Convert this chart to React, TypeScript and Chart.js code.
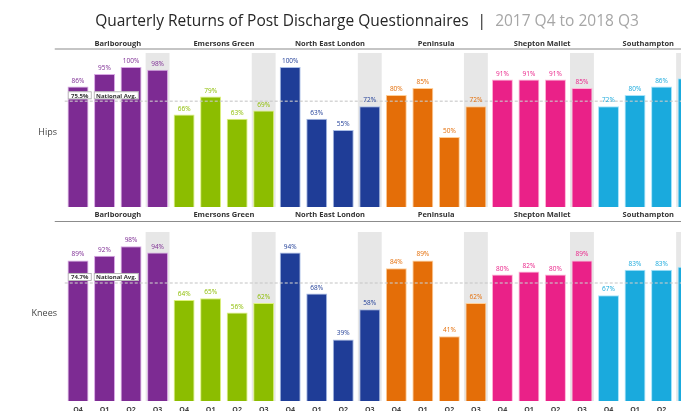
import React, { useEffect, useRef } from 'react';
import { Chart, registerables } from 'chart.js';
Chart.register(...registerables);

const titleMain = 'Quarterly Returns of Post Discharge Questionnaires';
const titleSep = '|';
const titleSub = '2017 Q4 to 2018 Q3';
const groups = ['Barlborough', 'Emersons Green', 'North East London', 'Peninsula', 'Shepton Mallet', 'Southampton'];
const quarters = ['Q4', 'Q1', 'Q2', 'Q3'];
const highlightQuarter = 'Q3';
const groupColors = ['#7d2b93', '#8cbd00', '#1f3d97', '#e46e08', '#ea2188', '#1aaadd'];
const groupTints = ['#d8a8e4', '#def27c', '#a9bde6', '#ffcf98', '#ffb2d6', '#a8e4fb'];
const panelNames = ['Hips', 'Knees'];
const hipsValues = [86, 95, 100, 98, 66, 79, 63, 69, 100, 63, 55, 72, 80, 85, 50, 72, 91, 91, 91, 85, 72, 80, 86, 92];
const kneesValues = [89, 92, 98, 94, 64, 65, 56, 62, 94, 68, 39, 58, 84, 89, 41, 62, 80, 82, 80, 89, 67, 83, 83, 85];
const nationalAvg = [75.5, 74.7];
const avgLabel = 'National Avg.';

const labels = groups.flatMap(() => quarters);
const barColors = groups.flatMap((_, g) => quarters.map(() => groupColors[g]));
const barTints = groups.flatMap((_, g) => quarters.map(() => groupTints[g]));

const FONT = '"Open Sans", "Liberation Sans", sans-serif';
const CANVAS_W = 720;

type Decor = {
  panel: number;
  headerY: number;
  headerLineY: number;
  bandTop: number;
  nameY: number;
  drawTitle: boolean;
  drawTicks: boolean;
};

const decorPlugin = {
  id: 'panelDecor',
  beforeDatasetsDraw(chart: any, _a: any, opts: Decor) {
    const { ctx, chartArea } = chart;
    const xs = chart.scales.x;
    const w = (xs.width / labels.length) * 0.9;
    ctx.save();
    ctx.fillStyle = '#e7e7e7';
    labels.forEach((q, i) => {
      if (q !== highlightQuarter) return;
      const x = xs.getPixelForValue(i);
      ctx.fillRect(x - w / 2, opts.bandTop, w, chartArea.bottom - opts.bandTop);
    });
    ctx.restore();
  },
  afterDatasetsDraw(chart: any, _a: any, opts: Decor) {
    const { ctx, chartArea } = chart;
    const xs = chart.scales.x;
    const ys = chart.scales.y;
    const values = chart.data.datasets[0].data as number[];
    ctx.save();

    // national average line
    const avg = nationalAvg[opts.panel];
    const ay = ys.getPixelForValue(avg);
    ctx.strokeStyle = 'rgba(200,200,200,0.75)';
    ctx.lineWidth = 1.5;
    ctx.setLineDash([3, 2]);
    ctx.beginPath();
    ctx.moveTo(chartArea.left, ay);
    ctx.lineTo(chart.width, ay);
    ctx.stroke();
    ctx.setLineDash([]);

    // average box
    const bx = chartArea.left + 3;
    const bh = 8;
    const by = ay - bh - 2;
    const cells = [{ t: avg.toFixed(1) + '%', w: 24 }, { t: avgLabel, w: 45 }];
    let cx = bx;
    ctx.font = `bold 6px ${FONT}`;
    ctx.textAlign = 'center';
    ctx.textBaseline = 'middle';
    cells.forEach((c) => {
      ctx.fillStyle = '#ffffff';
      ctx.fillRect(cx, by, c.w, bh);
      ctx.strokeStyle = 'rgba(150,150,150,0.8)';
      ctx.lineWidth = 0.8;
      ctx.strokeRect(cx + 0.5, by + 0.5, c.w - 1, bh - 1);
      ctx.fillStyle = '#333';
      ctx.fillText(c.t, cx + c.w / 2, by + bh / 2 + 0.5);
      cx += c.w + 2;
    });

    // value labels
    ctx.font = `6.5px ${FONT}`;
    ctx.textAlign = 'center';
    ctx.textBaseline = 'bottom';
    values.forEach((v, i) => {
      const x = xs.getPixelForValue(i);
      const y = ys.getPixelForValue(v);
      ctx.fillStyle = barColors[i];
      ctx.fillText(Math.round(v) + '%', x, y - 2.5);
    });

    // group headers
    ctx.font = `bold 7.5px ${FONT}`;
    ctx.fillStyle = '#333';
    ctx.textBaseline = 'middle';
    groups.forEach((g, gi) => {
      const x0 = xs.getPixelForValue(gi * 4);
      const x1 = xs.getPixelForValue(gi * 4 + 3);
      ctx.fillText(g, (x0 + x1) / 2, opts.headerY);
    });
    ctx.strokeStyle = '#8c8c8c';
    ctx.lineWidth = 1.2;
    ctx.beginPath();
    ctx.moveTo(chartArea.left - 10, opts.headerLineY);
    ctx.lineTo(chart.width, opts.headerLineY);
    ctx.stroke();

    // x tick labels (quarters)
    if (opts.drawTicks) {
      ctx.font = `bold 7px ${FONT}`;
      ctx.fillStyle = '#444';
      ctx.textAlign = 'center';
      ctx.textBaseline = 'top';
      labels.forEach((l, i) => {
        ctx.fillText(l, xs.getPixelForValue(i), chartArea.bottom + 5);
      });
    }

    // panel name
    ctx.font = `9px ${FONT}`;
    ctx.fillStyle = '#444';
    ctx.textAlign = 'right';
    ctx.textBaseline = 'middle';
    ctx.fillText(panelNames[opts.panel], 57, opts.nameY);

    // title
    if (opts.drawTitle) {
      ctx.font = `15.5px ${FONT}`;
      ctx.textAlign = 'left';
      const gap = 9;
      const w1 = ctx.measureText(titleMain).width;
      const w2 = ctx.measureText(titleSep).width;
      const w3 = ctx.measureText(titleSub).width;
      const total = w1 + gap + w2 + gap + w3;
      let tx = 367 - total / 2;
      const ty = 22;
      ctx.fillStyle = '#262626';
      ctx.fillText(titleMain, tx, ty);
      tx += w1 + gap;
      ctx.fillText(titleSep, tx, ty);
      tx += w2 + gap;
      ctx.fillStyle = '#a6a6a6';
      ctx.fillText(titleSub, tx, ty);
    }
    ctx.restore();
  },
};

function makeChart(canvas: HTMLCanvasElement, values: number[], decor: Decor, padTop: number, padBottom: number) {
  return new Chart(canvas, {
    type: 'bar',
    data: {
      labels,
      datasets: [
        {
          data: values,
          backgroundColor: barColors,
          borderColor: barTints,
          borderWidth: 1,
          categoryPercentage: 1,
          barPercentage: 0.79,
        },
      ],
    },
    options: {
      responsive: false,
      animation: false,
      devicePixelRatio: 1,
      layout: { padding: { left: 64.74, right: CANVAS_W - 701.34, top: padTop, bottom: padBottom } },
      plugins: {
        legend: { display: false },
        tooltip: { enabled: false },
        panelDecor: decor as any,
      } as any,
      scales: {
        x: { display: false },
        y: { display: false, min: 0, max: 100 },
      },
    },
    plugins: [decorPlugin as any],
  });
}

export default function App() {
  const ref1 = useRef<HTMLCanvasElement>(null);
  const ref2 = useRef<HTMLCanvasElement>(null);
  useEffect(() => {
    const c1 = makeChart(ref1.current!, hipsValues, { panel: 0, headerY: 44, headerLineY: 49, bandTop: 53, nameY: 132, drawTitle: true, drawTicks: false }, 67, 3);
    const c2 = makeChart(ref2.current!, kneesValues, { panel: 1, headerY: 5, headerLineY: 11.5, bandTop: 22, nameY: 103, drawTitle: false, drawTicks: true }, 33, 19);
    return () => {
      c1.destroy();
      c2.destroy();
    };
  }, []);
  return (
    <div style={{ position: 'fixed', left: 0, top: 0, width: '100vw', height: '100vh', overflow: 'hidden', background: '#fff' }}>
      <canvas ref={ref1} width={CANVAS_W} height={210} style={{ position: 'absolute', left: 0, top: 0 }} />
      <canvas ref={ref2} width={CANVAS_W} height={210} style={{ position: 'absolute', left: 0, top: 210 }} />
    </div>
  );
}
